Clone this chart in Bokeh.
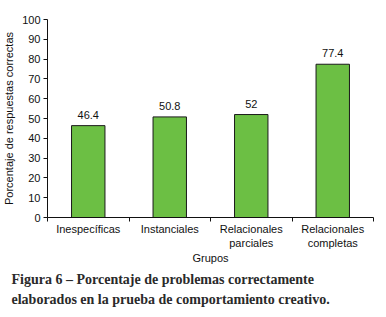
from bokeh.plotting import figure
from bokeh.models import FixedTicker, Title, Range1d, ColumnDataSource
from bokeh.embed import file_html
from bokeh.resources import INLINE

categories = ["Inespecíficas", "Instanciales", "Relacionales\nparciales", "Relacionales\ncompletas"]
values = [46.4, 50.8, 52, 77.4]
value_labels = ["46.4", "50.8", "52", "77.4"]
y_ticks = [0, 10, 20, 30, 40, 50, 60, 70, 80, 90, 100]
caption = ["Figura 6 – Porcentaje de problemas correctamente",
           "elaborados en la prueba de comportamiento creativo."]

xs = [i + 0.5 for i in range(len(categories))]
src = ColumnDataSource(dict(x=xs, top=values, lab=value_labels))

p = figure(width=386, height=317, output_backend="svg", toolbar_location=None,
           x_range=Range1d(0, len(categories)), y_range=Range1d(0, 100),
           min_border_left=41, min_border_right=13, min_border_top=19, min_border_bottom=100)
p.outline_line_color = None
p.xgrid.visible = False
p.ygrid.visible = False
p.background_fill_color = "white"
p.border_fill_color = "white"

p.vbar(x="x", top="top", width=0.41, bottom=0, source=src,
       fill_color="#6cbf44", line_color="#1a1a1a", line_width=1)
p.text(x="x", y="top", text="lab", source=src, y_offset=-7,
       text_align="center", text_baseline="bottom",
       text_font_size="11px", text_font={"value": "Liberation Sans"}, text_color="#111111")

# x axis
xa = p.xaxis[0]
xa.ticker = FixedTicker(ticks=xs, minor_ticks=list(range(len(categories) + 1)))
xa.major_label_overrides = {x: c for x, c in zip(xs, categories)}
xa.major_tick_out = 0
xa.major_tick_in = 0
xa.minor_tick_out = 4
xa.minor_tick_in = 0
xa.minor_tick_line_color = "#111111"
xa.axis_line_color = "#111111"
xa.major_label_text_font = "Liberation Sans"
xa.major_label_text_font_size = "11px"
xa.major_label_text_color = "#111111"
xa.major_label_standoff = 1
xa.axis_label = "Grupos"
xa.axis_label_text_font = "Liberation Sans"
xa.axis_label_text_font_size = "11px"
xa.axis_label_text_font_style = "normal"
xa.axis_label_text_color = "#111111"
xa.axis_label_standoff = 0

# y axis
ya = p.yaxis[0]
ya.ticker = FixedTicker(ticks=y_ticks)
ya.minor_tick_line_color = None
ya.major_tick_out = 4
ya.major_tick_in = 0
ya.major_tick_line_color = "#111111"
ya.axis_line_color = "#111111"
ya.major_label_text_font = "Liberation Sans"
ya.major_label_text_font_size = "11px"
ya.major_label_text_color = "#111111"
ya.major_label_standoff = 3
ya.axis_label = "Porcentaje de respuestas correctas"
ya.axis_label_text_font = "Liberation Sans"
ya.axis_label_text_font_size = "11px"
ya.axis_label_text_font_style = "normal"
ya.axis_label_text_color = "#111111"
ya.axis_label_standoff = 4

for i, line in enumerate(caption):
    p.add_layout(Title(text=line, align="left", offset=-36, standoff=0 if i else 6,
                       text_font="Liberation Serif", text_font_style="bold",
                       text_font_size="14px", text_color="#2a2a2a"), "below")

open("out.html", "w").write(file_html(p, INLINE))
